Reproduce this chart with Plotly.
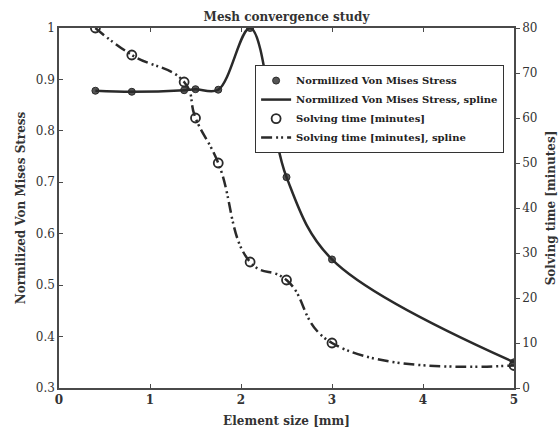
import plotly.graph_objects as go

# Element sizes [mm] and measured results
element_size = [0.4, 0.8, 1.375, 1.5, 1.75, 2.1, 2.5, 3.0, 5.0]
norm_stress = [0.878, 0.876, 0.879, 0.881, 0.880, 1.0, 0.71, 0.55, 0.35]
solve_time = [80, 74, 68, 60, 50, 28, 24, 10, 5]

y_ticks_left = [0.3, 0.4, 0.5, 0.6, 0.7, 0.8, 0.9, 1.0]
y_ticks_right = [0, 10, 20, 30, 40, 50, 60, 70, 80]

FONT = "DejaVu Serif"
INK = "#2a2a2a"
AXIS = "#4a4a4a"
TXT = "#333333"

fig = go.Figure()

fig.add_trace(go.Scatter(
    x=element_size, y=norm_stress, mode="markers",
    name="Normilized Von Mises Stress",
    marker=dict(symbol="circle", size=7, color="#555555",
                line=dict(color=INK, width=1)),
))
fig.add_trace(go.Scatter(
    x=element_size, y=norm_stress, mode="lines",
    name="Normilized Von Mises Stress, spline",
    line=dict(color=INK, width=2.5, shape="spline", smoothing=1.0),
))
fig.add_trace(go.Scatter(
    x=element_size, y=solve_time, mode="markers", yaxis="y2",
    name="Solving time [minutes]",
    marker=dict(symbol="circle-open", size=9, color=INK,
                line=dict(color=INK, width=1.8)),
))
fig.add_trace(go.Scatter(
    x=element_size, y=solve_time, mode="lines", yaxis="y2",
    name="Solving time [minutes], spline",
    line=dict(color=INK, width=2.5, shape="spline", smoothing=1.3,
              dash="11px,4px,2px,3px,2px,4px"),
))

fig.update_layout(
    width=559, height=430,
    margin=dict(l=59, r=45, t=28, b=42, autoexpand=False),
    paper_bgcolor="white", plot_bgcolor="white",
    font=dict(family=FONT, color=TXT, size=12),
    showlegend=True,
    title=dict(text="<b>Mesh convergence study</b>", x=0.5, xanchor="center",
               xref="paper", y=1 - 17 / 430, yanchor="middle",
               font=dict(family=FONT, size=12, color=TXT)),
    xaxis=dict(range=[0, 5], dtick=1, tick0=0, ticks="inside", ticklen=4,
               tickcolor=AXIS, showline=True, linecolor=AXIS, linewidth=1.5,
               mirror="ticks", showgrid=False, zeroline=False,
               automargin=False,
               tickfont=dict(family=FONT, size=12, color=TXT),
               tickprefix="<b>", ticksuffix="</b>",
               title=dict(text="<b>Element size [mm]</b>", standoff=10,
                          font=dict(family=FONT, size=12, color=TXT))),
    yaxis=dict(range=[0.3, 1.0], tickvals=y_ticks_left, ticks="inside",
               ticklen=4, tickcolor=AXIS, showline=True, linecolor=AXIS,
               linewidth=1.5, showgrid=False, zeroline=False,
               automargin=False,
               tickfont=dict(family=FONT, size=12, color=TXT),
               tickprefix="<b>", ticksuffix="</b>",
               title=dict(text="<b>Normilized Von Mises Stress</b>", standoff=8,
                          font=dict(family=FONT, size=12, color=TXT))),
    yaxis2=dict(range=[0, 80], tickvals=y_ticks_right, overlaying="y",
                side="right", ticks="outside", ticklen=4, tickcolor=AXIS,
                showline=True, linecolor=AXIS, linewidth=1.5,
                showgrid=False, zeroline=False, automargin=False,
                tickfont=dict(family=FONT, size=12, color=TXT),
                tickprefix="<b>", ticksuffix="</b>",
                title=dict(text="<b>Solving time [minutes]</b>", standoff=10,
                           font=dict(family=FONT, size=12, color=TXT))),
    legend=dict(x=0.431, y=0.897, xanchor="left", yanchor="top",
                bgcolor="white", bordercolor=TXT, borderwidth=1,
                font=dict(family=FONT, size=10, color="#222222"),
                itemwidth=30, tracegroupgap=0),
)
for tr in fig.data:
    tr.name = "<b>" + tr.name + "</b>"

fig.write_html("out.html")
